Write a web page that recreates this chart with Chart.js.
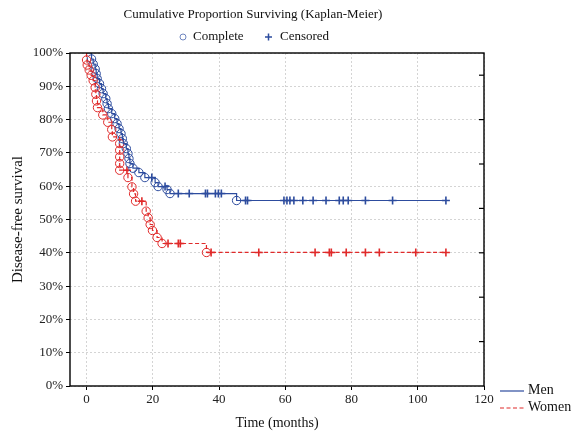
<!DOCTYPE html>
<html><head><meta charset="utf-8">
<script src="https://cdn.jsdelivr.net/npm/chart.js@4"></script>
<style>html,body{margin:0;padding:0;background:#fff}</style>
</head><body>
<canvas id="c" width="575" height="432"></canvas>
<script>
// ---- data ----
const titleText = 'Cumulative Proportion Surviving (Kaplan-Meier)';
const markerLegend = ['Complete', 'Censored'];
const groupNames = ['Men', 'Women'];
const xTickValues = [0, 20, 40, 60, 80, 100, 120];
const yTickValues = [0, 10, 20, 30, 40, 50, 60, 70, 80, 90, 100];

// Men: complete (event) times and survival (%) after each event
const menEventT = [1.5, 2.0, 2.6, 2.9, 3.2, 3.9, 4.5, 5.0, 5.8, 6.2, 6.6, 7.6, 8.5, 9.2, 9.8, 10.4, 10.8, 11.1, 12.0, 12.5, 12.8, 13.1, 14.0, 15.8, 17.6, 20.7, 21.6, 24.3, 25.2, 45.3];
const menEventS = [98.2, 96.7, 95.2, 93.8, 92.3, 90.8, 89.3, 87.8, 86.3, 84.8, 83.3, 81.8, 80.3, 78.8, 77.3, 75.8, 74.3, 72.8, 71.3, 69.8, 68.3, 66.8, 65.4, 64.1, 62.6, 61.1, 59.9, 59.0, 57.8, 55.7];
// Men: censored times
const menCensT = [19.7, 23.7, 27.7, 31.0, 35.9, 36.5, 38.9, 39.8, 40.7, 48.0, 48.6, 59.6, 60.5, 61.4, 62.6, 65.3, 68.4, 72.3, 76.3, 77.5, 79.0, 84.2, 92.4, 108.5];

// Women
const womenEventT = [0.0, 0.2, 0.8, 1.4, 2.0, 2.6, 2.8, 3.0, 3.3, 4.9, 6.4, 7.6, 7.8, 10.0, 10.0, 10.0, 10.0, 10.0, 12.5, 13.7, 14.2, 14.8, 18.0, 18.6, 19.2, 19.9, 21.3, 22.8, 36.2];
const womenEventS = [97.9, 96.4, 94.9, 93.3, 91.7, 89.6, 87.6, 85.6, 83.6, 81.4, 79.2, 77.0, 74.8, 72.8, 70.8, 68.8, 66.8, 64.8, 62.6, 59.8, 57.7, 55.5, 52.5, 50.5, 48.5, 46.7, 44.6, 42.8, 40.1];
const womenCensT = [12.2, 16.7, 24.6, 27.7, 28.3, 37.6, 52.0, 69.0, 73.3, 73.9, 78.4, 84.2, 88.4, 99.4, 108.5];

// ---- styling ----
const BLUE = '#2d4c9e';
const RED = '#e02a2a';
const SERIF = '"Liberation Serif", "Times New Roman", serif';

// survival value of the KM step curve at time t
function survAt(evT, evS, t) {
  let s = 100;
  for (let i = 0; i < evT.length; i++) if (evT[i] <= t) s = evS[i];
  return s;
}
function stepLine(evT, evS, censT) {
  const pts = [{x: 0, y: 100}];
  evT.forEach((t, i) => pts.push({x: t, y: evS[i]}));
  const end = Math.max(...censT, ...evT);
  pts.push({x: end, y: survAt(evT, evS, end)});
  return pts;
}
const pts = (ts, ss) => ts.map((t, i) => ({x: t, y: ss[i]}));
const cens = (evT, evS, ct) => ct.map(t => ({x: t, y: survAt(evT, evS, t)}));

const datasets = [
  {label: 'Women', data: stepLine(womenEventT, womenEventS, womenCensT), showLine: true, stepped: true, borderColor: RED, borderWidth: 1.2, borderDash: [4, 2.5], pointRadius: 0, fill: false},
  {label: 'Men', data: stepLine(menEventT, menEventS, menCensT), showLine: true, stepped: true, borderColor: BLUE, borderWidth: 1.2, pointRadius: 0, fill: false},
  {label: 'Women complete', data: pts(womenEventT, womenEventS), showLine: false, pointStyle: 'circle', pointRadius: 4.2, borderColor: RED, backgroundColor: 'rgba(255,255,255,0)', borderWidth: 1},
  {label: 'Men complete', data: pts(menEventT, menEventS), showLine: false, pointStyle: 'circle', pointRadius: 4.2, borderColor: BLUE, backgroundColor: 'rgba(255,255,255,0)', borderWidth: 1},
  {label: 'Women censored', data: cens(womenEventT, womenEventS, womenCensT), showLine: false, pointStyle: 'cross', pointRadius: 4, borderColor: RED, borderWidth: 1.6},
  {label: 'Men censored', data: cens(menEventT, menEventS, menCensT), showLine: false, pointStyle: 'cross', pointRadius: 4, borderColor: BLUE, borderWidth: 1.6}
];

const decor = {
  id: 'decor',
  afterDraw(chart) {
    const {ctx, chartArea: a} = chart;
    ctx.save();
    // frame
    ctx.strokeStyle = '#000'; ctx.lineWidth = 1.4; ctx.setLineDash([]);
    ctx.strokeRect(a.left, a.top, a.right - a.left, a.bottom - a.top);
    // inner ticks on right axis
    const y2 = chart.scales.y2;
    ctx.lineWidth = 1.2;
    y2.ticks.forEach(t => {
      const py = y2.getPixelForValue(t.value);
      if (py > a.top + 2 && py < a.bottom - 2) {
        ctx.beginPath(); ctx.moveTo(a.right - 5, py); ctx.lineTo(a.right, py); ctx.stroke();
      }
    });
    // title
    ctx.fillStyle = '#111';
    ctx.font = '13px ' + SERIF;
    ctx.textAlign = 'center'; ctx.textBaseline = 'middle';
    ctx.fillText(titleText, 253, 15);
    // top marker legend
    ctx.textAlign = 'left';
    ctx.strokeStyle = '#6f86bf'; ctx.lineWidth = 1;
    ctx.beginPath(); ctx.arc(183, 37, 3, 0, Math.PI * 2); ctx.stroke();
    ctx.fillText(markerLegend[0], 193, 37);
    ctx.strokeStyle = BLUE; ctx.lineWidth = 1.5;
    ctx.beginPath(); ctx.moveTo(265, 37); ctx.lineTo(272, 37); ctx.moveTo(268.5, 33.5); ctx.lineTo(268.5, 40.5); ctx.stroke();
    ctx.fillText(markerLegend[1], 280, 37);
    // bottom-right group legend
    ctx.font = '14px ' + SERIF;
    ctx.strokeStyle = BLUE; ctx.lineWidth = 1.2;
    ctx.beginPath(); ctx.moveTo(500, 391); ctx.lineTo(524, 391); ctx.stroke();
    ctx.fillText(groupNames[0], 528, 390);
    ctx.strokeStyle = RED; ctx.setLineDash([4, 2.5]);
    ctx.beginPath(); ctx.moveTo(500, 408); ctx.lineTo(524, 408); ctx.stroke();
    ctx.setLineDash([]);
    ctx.fillText(groupNames[1], 528, 407);
    ctx.restore();
  }
};

new Chart(document.getElementById('c'), {
  type: 'scatter',
  data: {datasets},
  plugins: [decor],
  options: {
    responsive: false,
    animation: false,
    layout: {padding: {left: 0, top: 53, right: 91, bottom: 0}},
    plugins: {legend: {display: false}, title: {display: false}, tooltip: {enabled: false}},
    scales: {
      x: {
        type: 'linear', min: -5, max: 120,
        afterBuildTicks: s => { s.ticks = xTickValues.map(v => ({value: v})); },
        ticks: {font: {family: SERIF, size: 13}, color: '#222', padding: 2, maxRotation: 0},
        grid: {color: '#d4d4d4', lineWidth: 1, tickColor: '#000', tickLength: 4},
        border: {display: false, dash: [2, 2]},
        title: {display: true, text: 'Time (months)', font: {family: SERIF, size: 14}, color: '#111', padding: {top: 4, bottom: 0}},
        afterFit: s => { s.height = 46; }
      },
      y: {
        type: 'linear', min: 0, max: 100,
        afterBuildTicks: s => { s.ticks = yTickValues.map(v => ({value: v})); },
        ticks: {font: {family: SERIF, size: 13}, color: '#222', padding: 3, callback: v => v + '%'},
        grid: {color: '#d4d4d4', lineWidth: 1, tickColor: '#000', tickLength: 4},
        border: {display: false, dash: [2, 2]},
        title: {display: true, text: 'Disease-free survival', font: {family: SERIF, size: 15}, color: '#111', padding: {top: 9, bottom: 0}},
        afterFit: s => { s.width = 70; }
      },
      y2: {
        type: 'linear', position: 'right', min: 0, max: 7.5,
        ticks: {stepSize: 1, display: false},
        grid: {drawOnChartArea: false, drawTicks: false},
        border: {display: false},
        afterFit: s => { s.width = 0; }
      }
    }
  }
});
</script>
</body></html>
